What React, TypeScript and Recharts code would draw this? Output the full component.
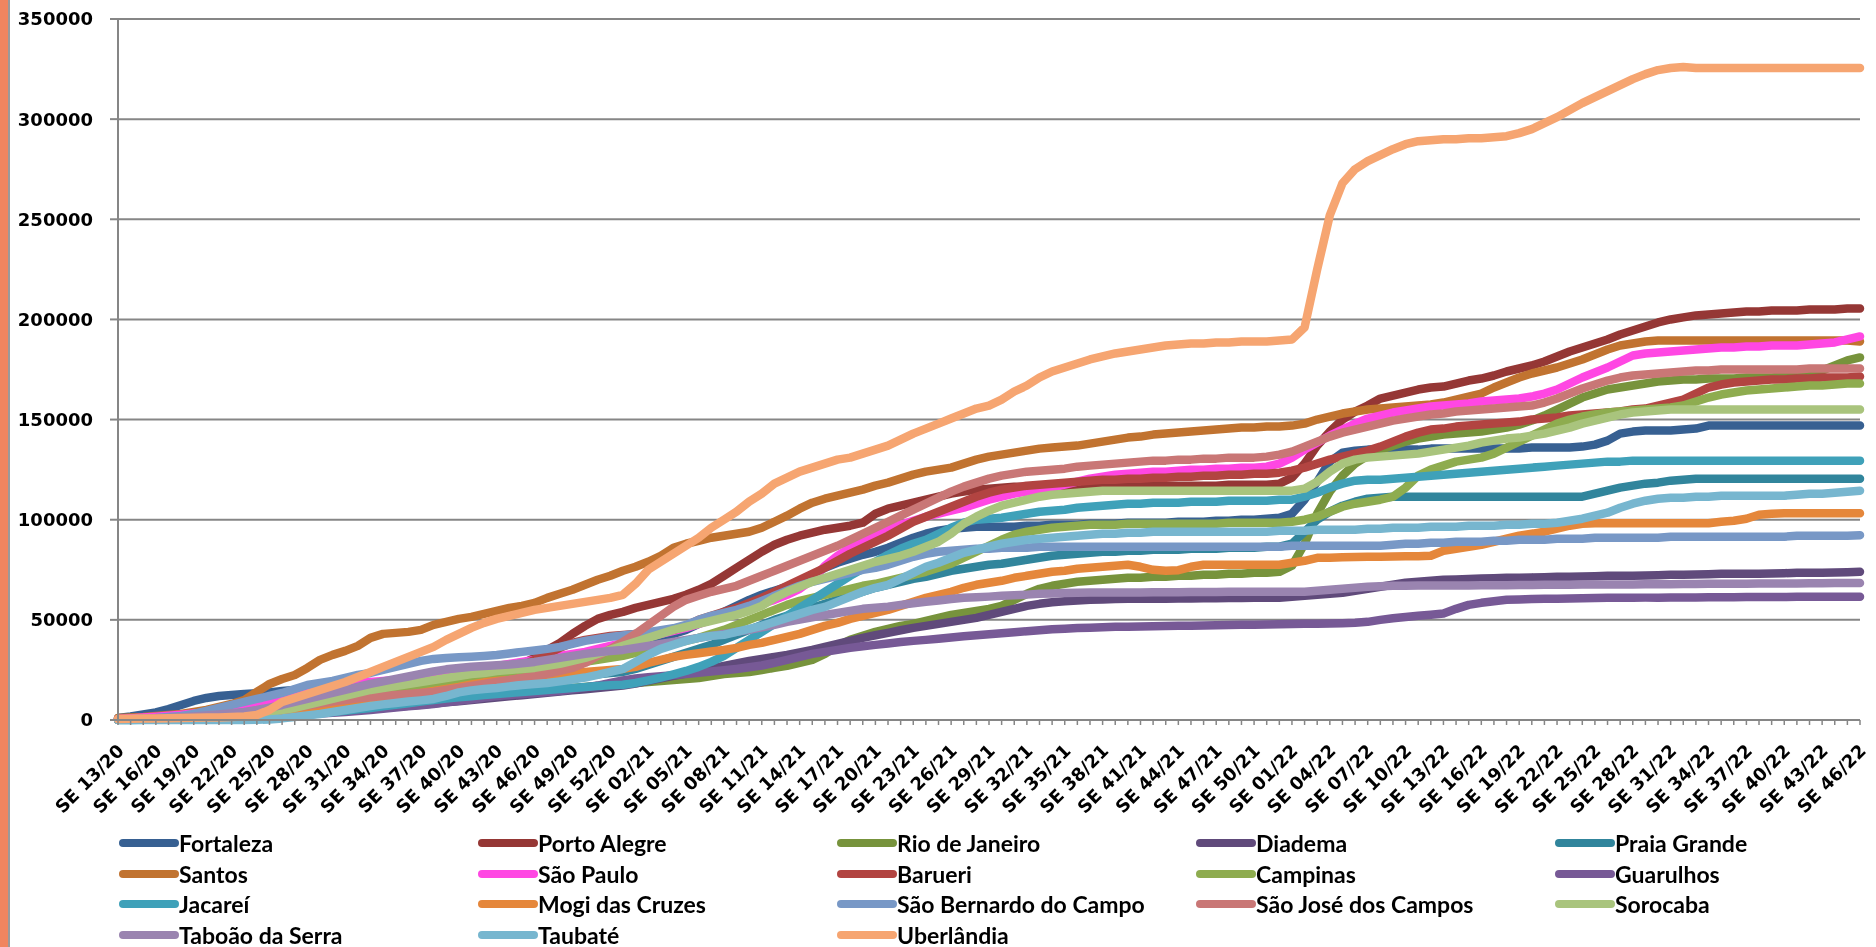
import { LineChart, Line, XAxis, YAxis, CartesianGrid, Legend } from "recharts";

// epidemiological weeks: SE 13/20 .. SE 46/22
const seasons: [string, number, number][] = [
  ["20", 13, 53],
  ["21", 1, 52],
  ["22", 1, 46],
];
const weeks: string[] = seasons.flatMap(([yy, from, to]) =>
  Array.from({ length: to - from + 1 }, (_, k) => `SE ${String(from + k).padStart(2, "0")}/${yy}`)
);
const labelledWeeks = new Set(weeks.filter((_, i) => i % 3 === 0));

const yTicks = [0, 50000, 100000, 150000, 200000, 250000, 300000, 350000];

// cumulative values, in thousands
const fortaleza = [
  1, 1.8, 2.8, 3.8, 5.5, 7.5, 9.5, 11, 12, 12.5,
  13, 13.3, 13.8, 14.5, 15, 15.5, 16, 16.5, 17, 17.5,
  18, 18.5, 19, 19.5, 20, 21, 22, 22.5, 23.5, 24,
  25, 26, 27, 28, 29, 30, 31.5, 33, 34, 35,
  36, 38, 39.5, 41, 43, 45, 48, 51, 54, 57,
  60, 62.5, 64.5, 66.5, 69, 72, 76, 78.5, 80.5, 82.5,
  84, 86, 88.5, 91, 93, 94.5, 95.5, 96, 96.5, 96.5,
  96.5, 96.5, 97, 97, 97.5, 97.5, 97.5, 98, 98, 98,
  98.5, 98.5, 98.5, 98.5, 99, 99, 99, 99.5, 99.5, 100,
  100, 100.5, 101, 103, 110, 119, 129, 133.5, 134.5, 135,
  135, 135, 135, 135, 135.5, 135.5, 135.5, 135.5, 135.5, 135.5,
  135.5, 135.5, 136, 136, 136, 136, 136.5, 137.5, 139.5, 143,
  144, 144.5, 144.5, 144.5, 145, 145.5, 147, 147, 147, 147,
  147, 147, 147, 147, 147, 147, 147, 147, 147,
];
const portoAlegre = [
  0.2, 0.3, 0.5, 0.7, 0.9, 1.1, 1.3, 1.5, 1.7, 2,
  2.3, 2.7, 3.1, 3.5, 4, 4.6, 5.2, 6, 6.8, 7.7,
  8.7, 9.8, 11, 12, 13, 14.5, 16, 17.5, 19, 20.5,
  22, 25, 28, 31, 35, 38.5, 43, 47, 50.5, 52.5,
  54, 56, 57.5, 59, 60.5, 62.5, 65, 68, 72, 76,
  80, 84, 87.5, 90, 92, 93.5, 95, 96, 97, 98.5,
  103, 105.5, 107, 108.5, 110, 111.5, 113, 114, 115, 115.5,
  116, 116.5, 116.5, 116.5, 116.5, 116.5, 116.5, 117, 117, 117,
  117, 117, 117, 117, 117, 117, 117, 117, 117.5, 117.5,
  117.5, 117.5, 118, 121, 128, 137, 144, 150, 154, 157,
  160.5, 162, 163.5, 165, 166, 166.5, 168, 169.5, 170.5, 172,
  174, 175.5, 177, 179, 181.5, 184, 186, 188, 190, 192.5,
  194.5, 196.5, 198.5, 200, 201, 202, 202.5, 203, 203.5, 204,
  204, 204.5, 204.5, 204.5, 205, 205, 205, 205.5, 205.5,
];
const rioDeJaneiro = [
  0.1, 0.2, 0.3, 0.4, 0.5, 0.7, 0.9, 1.1, 1.3, 1.5,
  1.8, 2.1, 2.5, 2.9, 3.3, 3.8, 4.3, 4.8, 5.4, 6,
  6.6, 7.2, 7.9, 8.6, 9.3, 10, 10.7, 11.4, 12, 12.5,
  13, 13.5, 14, 14.5, 15, 15.5, 16, 16.5, 17, 17.5,
  18, 18.5, 19, 19.5, 20, 20.5, 21, 22, 23, 23.5,
  24, 25, 26, 27, 28.5, 30, 33, 37, 40, 42,
  44, 45.5, 47, 48, 49.5, 51, 52.5, 53.5, 54.5, 55.5,
  57, 60, 63, 65.5, 67, 68, 69, 69.5, 70, 70.5,
  71, 71, 71.5, 71.5, 72, 72, 72.5, 72.5, 73, 73,
  73.5, 73.5, 74, 77, 88, 103, 114, 122, 128, 132,
  135, 137, 139, 140.5, 141.5, 142.5, 143, 143.5, 144, 145,
  146, 147.5, 149.5, 152, 155, 158, 161, 163, 165, 166,
  167, 168, 169, 169.5, 170, 170, 170.5, 170.5, 170.5, 171,
  171, 171, 171.5, 172, 173, 174.5, 177, 179.5, 181,
];
const diadema = [
  0.1, 0.15, 0.2, 0.3, 0.4, 0.5, 0.7, 0.9, 1.1, 1.4,
  1.7, 2, 2.4, 2.8, 3.2, 3.6, 4, 4.4, 4.8, 5.2,
  5.6, 6.1, 6.6, 7.1, 7.6, 8.2, 8.8, 9.4, 10, 10.6,
  11.2, 11.8, 12.4, 13, 13.6, 14.2, 14.8, 15.4, 16, 16.6,
  17.2, 18.2, 19.5, 20.8, 22, 23.2, 24.5, 25.8, 27, 28.2,
  29.5, 30.5, 31.5, 32.5, 33.7, 35, 36.5, 38, 39.5, 41,
  42.3, 43.5, 44.8, 46, 47, 48, 49, 50, 51, 52.5,
  54, 55.5, 57, 58, 58.8, 59.3, 59.7, 60, 60.2, 60.4,
  60.5, 60.5, 60.6, 60.6, 60.7, 60.7, 60.8, 60.8, 60.9, 60.9,
  61, 61, 61, 61.5, 62, 62.5, 63, 63.5, 64.5, 65.5,
  66.5, 67.5, 68.5, 69, 69.5, 70, 70.2, 70.4, 70.6, 70.8,
  71, 71, 71.2, 71.3, 71.5, 71.5, 71.6, 71.8, 72, 72,
  72, 72.2, 72.3, 72.5, 72.5, 72.6, 72.8, 73, 73, 73,
  73, 73.2, 73.3, 73.5, 73.5, 73.5, 73.6, 73.8, 74,
];
const praiaGrande = [
  0.2, 0.4, 0.6, 0.9, 1.3, 1.8, 2.4, 3, 3.6, 4.3,
  5, 6, 7.5, 9, 11, 13.5, 15, 15.8, 16.3, 16.7,
  17, 17.4, 17.7, 18, 18.3, 18.6, 18.8, 19, 19.3, 19.5,
  19.8, 20, 20.3, 20.6, 21, 21.4, 21.8, 22.3, 22.8, 23.4,
  24, 25.5, 27.5, 29.5, 31.5, 33.5, 35.5, 37.5, 40, 42.5,
  45, 47.5, 50, 52, 54, 56, 58, 60, 62, 64,
  66, 67.5, 69, 70.5, 71.5, 73, 74.5, 75.5, 76.5, 77.5,
  78, 79, 80, 81, 82, 82.5, 83, 83.5, 84, 84,
  84.5, 84.5, 85, 85, 85, 85.5, 85.5, 85.5, 86, 86,
  86, 86.5, 86.5, 88, 94, 100, 104, 107, 109, 110.5,
  111, 111.5, 111.5, 111.5, 111.5, 111.5, 111.5, 111.5, 111.5, 111.5,
  111.5, 111.5, 111.5, 111.5, 111.5, 111.5, 111.5, 113, 114.5, 116,
  117, 118, 118.5, 119.5, 120, 120.5, 120.5, 120.5, 120.5, 120.5,
  120.5, 120.5, 120.5, 120.5, 120.5, 120.5, 120.5, 120.5, 120.5,
];
const santos = [
  1, 1.2, 1.5, 2, 2.5, 3, 4, 5, 6.5, 8,
  10, 14, 18, 20.5, 22.5, 26, 30, 32.5, 34.5, 37,
  41, 43, 43.5, 44, 45, 47.5, 49, 50.5, 51.5, 53,
  54.5, 56, 57, 58.5, 61, 63, 65, 67.5, 70, 72,
  74.5, 76.5, 79, 82, 86, 88, 89.5, 91, 92, 93,
  94, 96, 99, 102, 105.5, 108.5, 110.5, 112, 113.5, 115,
  117, 118.5, 120.5, 122.5, 124, 125, 126, 128, 130, 131.5,
  132.5, 133.5, 134.5, 135.5, 136, 136.5, 137, 138, 139, 140,
  141, 141.5, 142.5, 143, 143.5, 144, 144.5, 145, 145.5, 146,
  146, 146.5, 146.5, 147, 148, 150, 151.5, 153, 154, 155,
  155.5, 156, 156.5, 157, 157.5, 158.5, 160, 161.5, 163, 166,
  168.5, 171, 173, 174.5, 176, 178, 180, 182.5, 185, 187,
  188, 189, 189.5, 189.5, 189.5, 189.5, 189.5, 189.5, 189.5, 189.5,
  189.5, 189.5, 189.5, 189.5, 189.5, 189.5, 189.5, 189.5, 189,
];
const saoPaulo = [
  0.5, 0.8, 1.2, 1.6, 2.1, 2.6, 3.2, 3.8, 4.5, 5.3,
  6.2, 7.5, 9.5, 12, 14.5, 16, 17, 17.5, 18, 18.5,
  19, 19.5, 20, 20.5, 21, 22, 23, 24, 25, 26,
  27, 28, 29, 30, 31, 32, 33, 34, 35.5, 37,
  38.5, 40, 41.5, 43, 44.5, 46, 48, 50, 52, 54,
  56, 58, 60, 62.5, 65.5, 70, 77, 82, 86, 89,
  92, 95, 97.5, 99.5, 101.5, 103, 104.5, 106, 108, 110,
  111.5, 113, 114, 115, 116, 117.5, 119, 120.5, 121.5, 122.5,
  123, 123.5, 124, 124, 124.5, 125, 125, 125.5, 125.5, 126,
  126, 126.5, 128, 131, 135, 138.5, 142, 145, 148, 150.5,
  152, 153.5, 154.5, 155.5, 156.5, 157, 157.5, 158, 159, 159.5,
  160, 160.5, 161.5, 163, 165, 168, 171, 173.5, 176, 179,
  182, 183, 183.5, 184, 184.5, 185, 185.5, 186, 186, 186.5,
  186.5, 187, 187, 187, 187.5, 188, 188.5, 190, 191.5,
];
const barueri = [
  0.2, 0.3, 0.4, 0.5, 0.6, 0.8, 1, 1.2, 1.4, 1.7,
  2, 2.4, 2.8, 3.3, 3.8, 4.4, 5, 5.7, 6.4, 7.2,
  8, 9, 10, 11, 12.5, 14, 15.5, 17, 18.5, 20,
  22, 24.5, 27, 30, 33, 36, 38.5, 40, 41, 42,
  42.5, 43, 43.5, 44, 45, 47, 50, 52, 54, 56,
  58.5, 61, 64, 67, 70, 73, 76, 79.5, 83, 86,
  89, 92, 95.5, 99, 101.5, 104, 106.5, 109, 111.5, 113.5,
  115, 116, 117, 117.5, 118, 118.5, 119, 119.5, 120, 120,
  120.5, 120.5, 121, 121, 121.5, 121.5, 122, 122, 122.5, 122.5,
  123, 123, 123.5, 124.5, 126, 128, 130, 131.5, 133, 134.5,
  136.5, 139, 141.5, 143.5, 145, 145.5, 146.5, 147, 147.5, 148,
  148.5, 149, 150, 150.5, 151, 152, 152.5, 153, 153.5, 154,
  155, 155.5, 157, 158.5, 160, 163, 166, 167.5, 168.5, 169,
  169.5, 170, 170, 170.5, 170.5, 171, 171, 171, 171.5,
];
const campinas = [
  0.1, 0.2, 0.3, 0.4, 0.5, 0.7, 0.9, 1.2, 1.5, 1.9,
  2.4, 3, 3.7, 4.5, 5.4, 6.4, 7.5, 8.6, 9.8, 11,
  12, 13, 14, 15, 16, 17, 18, 19, 20, 21,
  22, 23, 24, 25, 26, 27, 28, 29, 30, 31,
  32, 33.5, 35, 36.5, 38, 39.5, 41, 43, 45, 47.5,
  50, 52.5, 55, 57.5, 59.5, 61, 62.5, 64, 65.5, 67,
  68, 69.5, 71, 72.5, 74, 76, 78, 81, 84, 87,
  90, 92.5, 94, 95, 96, 96.5, 97, 97.5, 97.5, 97.5,
  98, 98, 98, 98, 98, 98, 98, 98, 98.5, 98.5,
  98.5, 98.5, 98.5, 99, 100, 101.5, 104, 106.5, 108, 109,
  110, 111.5, 116, 122, 125, 127, 129, 130, 131, 133,
  136, 139, 142, 145, 148, 150, 151.5, 152.5, 153.5, 154,
  154.5, 155, 155.5, 156, 157, 159, 161, 162.5, 163.5, 164.5,
  165, 165.5, 166, 166.5, 167, 167, 167.5, 168, 168,
];
const guarulhos = [
  0.1, 0.15, 0.2, 0.3, 0.4, 0.5, 0.6, 0.7, 0.8, 0.9,
  1, 1.3, 1.6, 2, 2.4, 2.8, 3.2, 3.6, 4, 4.5,
  5, 5.6, 6.2, 6.8, 7.4, 8, 8.8, 9.6, 10.4, 11.2,
  12, 12.5, 13, 13.5, 14, 14.5, 15.5, 16.3, 17.2, 18.5,
  19.8, 20.7, 21.3, 21.8, 22.4, 23, 23.6, 24.2, 24.8, 25.5,
  26.3, 27.2, 28.5, 30, 31.5, 33, 34, 35, 36, 36.8,
  37.5, 38.2, 38.9, 39.5, 40, 40.6, 41.2, 41.8, 42.3, 42.8,
  43.3, 43.8, 44.3, 44.8, 45.3, 45.6, 45.9, 46.1, 46.3, 46.5,
  46.6, 46.7, 46.8, 46.9, 47, 47.1, 47.2, 47.3, 47.4, 47.5,
  47.6, 47.7, 47.8, 47.9, 48, 48.1, 48.2, 48.3, 48.5, 49,
  50, 50.8, 51.4, 52, 52.6, 53.2, 55.5, 57.5, 58.5, 59.3,
  60, 60.2, 60.4, 60.5, 60.6, 60.7, 60.8, 60.9, 61, 61,
  61, 61.1, 61.1, 61.2, 61.2, 61.2, 61.3, 61.3, 61.3, 61.4,
  61.4, 61.4, 61.4, 61.5, 61.5, 61.5, 61.5, 61.5, 61.5,
];
const jacarei = [
  0, 0.05, 0.1, 0.2, 0.3, 0.4, 0.5, 0.6, 0.7, 0.85,
  1, 1.3, 1.7, 2.1, 2.5, 3, 3.5, 4, 4.6, 5.3,
  6, 6.8, 7.6, 8.4, 9.2, 10, 10.7, 11.3, 11.9, 12.5,
  13, 13.5, 14, 14.5, 15, 15.5, 16, 16.5, 17, 17.3,
  17.6, 18.5, 19.8, 21.2, 22.8, 24.5, 26.5, 29, 32, 36,
  40, 44, 48, 52, 56, 60, 64, 68, 72, 75.5,
  79, 82.5, 85.5, 88, 90, 93, 96, 98.5, 100, 100.5,
  101, 102, 103, 104, 104.5, 105, 106, 106.5, 107, 107.5,
  108, 108, 108.5, 108.5, 108.5, 109, 109, 109, 109.5, 109.5,
  109.5, 109.5, 110, 110, 111.5, 113.5, 116, 118, 119.5, 120,
  120, 120.5, 121, 121.5, 122, 122.5, 123, 123.5, 124, 124.5,
  125, 125.5, 126, 126.5, 127, 127.5, 128, 128.5, 129, 129,
  129.5, 129.5, 129.5, 129.5, 129.5, 129.5, 129.5, 129.5, 129.5, 129.5,
  129.5, 129.5, 129.5, 129.5, 129.5, 129.5, 129.5, 129.5, 129.5,
];
const mogiDasCruzes = [
  0.1, 0.15, 0.2, 0.3, 0.4, 0.5, 0.6, 0.8, 1, 1.2,
  1.5, 1.8, 2.2, 2.7, 3.3, 4, 4.8, 5.6, 6.4, 7.3,
  8.3, 9.5, 11, 12.5, 13.5, 14.5, 15.5, 16.5, 17.8, 18.8,
  19.5, 20, 20.8, 21.5, 22.2, 23, 23.5, 24, 24.5, 25,
  25.5, 26.5, 28.5, 30, 31.5, 32.5, 33.3, 34.2, 35, 36,
  37.5, 38.5, 40, 41.5, 43, 45, 47, 48.5, 50.5, 52,
  53.5, 55, 57, 59, 61, 62.5, 64, 66, 67.5, 68.5,
  69.5, 71, 72, 73, 74, 74.5, 75.5, 76, 76.5, 77,
  77.5, 76.5, 75, 74.5, 74.8, 76.5, 77.5, 77.5, 77.5, 77.5,
  77.5, 77.5, 77.5, 78.5, 79.5, 81, 81, 81.2, 81.4, 81.5,
  81.5, 81.6, 81.7, 81.8, 82, 84.5, 85.5, 86.5, 87.5, 89,
  90.5, 92, 93, 94, 95.5, 97, 98, 98.2, 98.2, 98.2,
  98.2, 98.2, 98.2, 98.2, 98.2, 98.2, 98.2, 99, 99.5, 100.5,
  102.5, 103, 103.2, 103.2, 103.2, 103.2, 103.2, 103.2, 103.2,
];
const saoBernardo = [
  0.2, 0.4, 0.7, 1, 1.5, 2, 3, 4.5, 6, 7.5,
  9, 10.5, 12, 13.5, 15.5, 17.5, 18.5, 19.5, 21, 22.5,
  23.5, 25, 26.5, 28, 29.5, 30.5, 31, 31.3, 31.6, 32,
  32.5, 33.2, 34, 34.7, 35.5, 36.5, 38, 39.5, 40.5, 41.5,
  42.2, 43, 43.8, 44.8, 45.8, 47.5, 50, 52, 53.5, 55,
  57, 59.5, 62, 64.5, 67, 69, 70.5, 72, 73.5, 75,
  76, 77.5, 79.5, 81.5, 83, 84, 84.5, 85, 85.5, 85.5,
  86, 86, 86, 86.5, 86.5, 86.5, 86.5, 86.5, 86.5, 86.5,
  86.5, 86.5, 86.5, 86.5, 86.5, 86.5, 86.5, 86.5, 86.5, 86.5,
  86.5, 86.5, 86.5, 87, 87, 87, 87, 87, 87, 87,
  87, 87.5, 88, 88, 88.5, 88.5, 89, 89, 89, 89.5,
  89.5, 90, 90, 90, 90.5, 90.5, 90.5, 91, 91, 91,
  91, 91, 91, 91.5, 91.5, 91.5, 91.5, 91.5, 91.5, 91.5,
  91.5, 91.5, 91.5, 92, 92, 92, 92, 92, 92.3,
];
const saoJoseDosCampos = [
  0.3, 0.4, 0.5, 0.7, 0.9, 1.1, 1.4, 1.8, 2.2, 2.7,
  3.2, 3.8, 4.5, 5.3, 6.2, 7.2, 8.2, 9.2, 10, 10.8,
  11.5, 12, 12.5, 13, 13.5, 14, 15, 16, 17, 18,
  19, 20, 21, 22, 23, 24.5, 26, 28.5, 32, 35.5,
  39, 43, 47.5, 52, 56.5, 60, 62, 64, 65.5, 67,
  69.5, 72, 74.5, 77, 79.5, 82, 84.5, 87, 90, 93,
  96, 99, 102, 105, 108, 111, 114, 116.5, 118.5, 120.5,
  122, 123, 124, 124.5, 125, 125.5, 126.5, 127, 127.5, 128,
  128.5, 129, 129.5, 129.5, 130, 130, 130.5, 130.5, 131, 131,
  131, 131.5, 132.5, 134, 136.5, 139, 141.5, 143.5, 145, 146.5,
  148, 149.5, 150.5, 151.5, 152.5, 153, 154, 154.5, 155, 155.5,
  156, 156.5, 157, 158.5, 160.5, 163, 165.5, 167.5, 169.5, 171,
  172, 172.5, 173, 173.5, 174, 174.5, 174.5, 175, 175, 175,
  175, 175, 175, 175, 175.5, 175.5, 175.5, 175.5, 175.5,
];
const sorocaba = [
  0.2, 0.3, 0.4, 0.5, 0.7, 0.9, 1.1, 1.4, 1.8, 2.2,
  2.7, 3.3, 4, 5, 6, 7.5, 9, 10.5, 12, 13.5,
  15, 16, 17, 18, 19, 20, 21, 22, 23, 23.5,
  24.5, 25, 25.5, 26, 27, 28, 29.5, 31, 33, 35,
  37, 39, 41, 43, 45, 46.5, 48, 49.5, 51, 52.5,
  54.5, 57, 61, 64, 66.5, 69, 71, 73, 75, 77,
  79, 80.5, 82, 84, 86.5, 89, 93, 98, 101.5, 104.5,
  107, 108.5, 110, 111.5, 112.5, 113, 113.5, 114, 114.5, 114.5,
  114.5, 114.5, 114.5, 114.5, 114.5, 114.5, 114.5, 114.5, 114.5, 114.5,
  114.5, 114.5, 114.5, 114.5, 115.5, 119, 124, 128, 130, 131,
  131.5, 132, 132.5, 133, 134, 135, 136, 137, 138.5, 139.5,
  140.5, 141, 142, 143, 144.5, 146, 148, 149.5, 151, 152.5,
  153.5, 154, 154.5, 155, 155, 155, 155, 155, 155, 155,
  155, 155, 155, 155, 155, 155, 155, 155, 155,
];
const taboaoDaSerra = [
  0.2, 0.3, 0.5, 0.7, 1, 1.3, 1.7, 2.2, 2.8, 3.4,
  4, 5, 6.2, 7.5, 9, 10.5, 12, 13.5, 15, 16.5,
  18, 19.3, 20.5, 21.7, 23, 24.3, 25.3, 26, 26.6, 27,
  27.3, 27.7, 28.3, 29, 30, 31, 32, 33, 33.8, 34.4,
  35, 36, 37, 38, 39, 40, 41, 42, 43, 44,
  45, 46.3, 47.5, 49, 50.2, 51.3, 52.4, 53.4, 54.5, 55.5,
  56, 56.6, 57.5, 58.3, 59, 59.7, 60.4, 61, 61.3, 61.6,
  62, 62.3, 62.6, 63, 63.2, 63.4, 63.5, 63.6, 63.6, 63.7,
  63.7, 63.7, 63.8, 63.8, 63.8, 63.9, 63.9, 63.9, 64, 64,
  64, 64, 64, 64, 64, 64.5, 65, 65.5, 66, 66.5,
  66.8, 67, 67, 67.1, 67.1, 67.2, 67.2, 67.2, 67.3, 67.3,
  67.3, 67.4, 67.4, 67.5, 67.5, 67.5, 67.6, 67.6, 67.6, 67.7,
  67.7, 67.8, 67.8, 67.8, 67.9, 67.9, 68, 68, 68, 68,
  68.1, 68.1, 68.2, 68.2, 68.3, 68.3, 68.4, 68.4, 68.4,
];
const taubate = [
  0, 0, 0, 0, 0, 0, 0, 0, 0, 0,
  0, 0.1, 0.3, 0.8, 1.5, 2.3, 3, 4, 5, 6,
  7, 7.8, 8.5, 9.2, 9.8, 10.5, 12, 13.8, 14.8, 15.5,
  16, 16.8, 17.5, 18, 18.5, 19.3, 20.2, 21.2, 22.5, 24,
  25.5, 29, 32.5, 35.5, 37.5, 39.5, 41, 42, 42.5, 44,
  45.5, 47, 49, 51, 53, 55, 56.5, 59, 61.5, 64,
  66, 67.5, 70.5, 73.5, 76.5, 78.5, 81, 83.5, 85, 86.5,
  88, 89, 90, 90.5, 91, 91.5, 92, 92.5, 93, 93,
  93.5, 93.5, 94, 94, 94, 94, 94, 94, 94, 94,
  94, 94, 94.5, 94.5, 94.5, 95, 95, 95, 95, 95.5,
  95.5, 96, 96, 96, 96.5, 96.5, 96.5, 97, 97, 97,
  97.5, 97.5, 98, 98, 98.5, 99.5, 100.5, 102, 103.5, 106,
  108, 109.5, 110.5, 111, 111, 111.5, 111.5, 112, 112, 112,
  112, 112, 112, 112.5, 113, 113, 113.5, 114, 114.5,
];
const uberlandia = [
  0.5, 0.6, 0.7, 0.8, 0.9, 1, 1.1, 1.2, 1.3, 1.5,
  1.8, 2.5, 5, 9, 11, 13, 15, 17, 19, 21.5,
  24, 26.5, 29, 31.5, 34, 36.5, 40, 43, 46, 48.5,
  50.5, 52, 53.5, 55, 56, 57, 58, 59, 60, 61,
  62.5, 68, 75, 79, 83, 87, 91, 96, 100, 104,
  109, 113, 118, 121, 124, 126, 128, 130, 131, 133,
  135, 137, 140, 143, 145.5, 148, 150.5, 153, 155.5, 157,
  160, 164, 167, 171, 174, 176, 178, 180, 181.5, 183,
  184, 185, 186, 187, 187.5, 188, 188, 188.5, 188.5, 189,
  189, 189, 189.5, 190, 196, 225, 252, 268, 275, 279,
  282, 285, 287.5, 289, 289.5, 290, 290, 290.5, 290.5, 291,
  291.5, 293, 295, 298, 301, 304.5, 308, 311, 314, 317,
  320, 322.5, 324.5, 325.5, 326, 325.5, 325.5, 325.5, 325.5, 325.5,
  325.5, 325.5, 325.5, 325.5, 325.5, 325.5, 325.5, 325.5, 325.5,
];

const cities = [
  "Fortaleza", "Porto Alegre", "Rio de Janeiro", "Diadema", "Praia Grande",
  "Santos", "São Paulo", "Barueri", "Campinas", "Guarulhos",
  "Jacareí", "Mogi das Cruzes", "São Bernardo do Campo", "São José dos Campos", "Sorocaba",
  "Taboão da Serra", "Taubaté", "Uberlândia",
];
const cityValues = [
  fortaleza, portoAlegre, rioDeJaneiro, diadema, praiaGrande,
  santos, saoPaulo, barueri, campinas, guarulhos,
  jacarei, mogiDasCruzes, saoBernardo, saoJoseDosCampos, sorocaba,
  taboaoDaSerra, taubate, uberlandia,
];
const cityColors = [
  "#376092", "#953735", "#77933C", "#604A7B", "#31859C",
  "#C17330", "#FF47E3", "#B24441", "#8EAC4F", "#775996",
  "#3FA1B9", "#E5873B", "#7898C6", "#C97776", "#A9C47D",
  "#9A84B0", "#77B6CF", "#F6A571",
];

const data = weeks.map((week, i) => {
  const row: Record<string, string | number> = { week };
  cities.forEach((city, k) => {
    row[city] = Math.round(cityValues[k][i] * 1000);
  });
  return row;
});

const AXIS_GREY = "#868686";

function WeekTick(props: any) {
  const { x, y, payload } = props;
  if (!labelledWeeks.has(payload.value)) return <g />;
  const tx = x + 7;
  const ty = y + 25;
  return (
    <text
      x={tx}
      y={ty}
      transform={`rotate(-45 ${tx} ${ty})`}
      textAnchor="end"
      fontFamily="DejaVu Sans"
      fontWeight="bold"
      fontSize={18}
      fill="#000"
    >
      {payload.value}
    </text>
  );
}

function CityLegend() {
  return (
    <div
      style={{
        display: "grid",
        gridTemplateColumns: "repeat(5, 359px)",
        fontFamily: "Lato",
        fontWeight: 700,
        fontSize: 23,
        lineHeight: "26px",
        color: "#000",
      }}
    >
      {cities.map((city, k) => (
        <div key={city} style={{ display: "flex", alignItems: "center", height: 30.5, whiteSpace: "nowrap" }}>
          <svg width={60} height={12} style={{ flex: "none" }}>
            <line x1={4} y1={6} x2={56} y2={6} stroke={cityColors[k]} strokeWidth={8} strokeLinecap="round" />
          </svg>
          <span>{city}</span>
        </div>
      ))}
    </div>
  );
}

export default function App() {
  return (
    <div style={{ position: "relative" }}>
      <div
        style={{
          position: "fixed",
          left: 0,
          top: 0,
          width: 8,
          height: "100vh",
          background: "#F0855F",
          borderRight: "2px solid #9A9A9A",
        }}
      />
      <LineChart
        width={1866}
        height={939}
        data={data}
        margin={{ top: 11, right: 14, bottom: 127, left: 0 }}
      >
        <CartesianGrid vertical={false} stroke={AXIS_GREY} strokeWidth={2} />
        <XAxis
          dataKey="week"
          interval={0}
          height={100}
          tickSize={5}
          tickMargin={2}
          axisLine={{ stroke: AXIS_GREY, strokeWidth: 2 }}
          tickLine={{ stroke: AXIS_GREY, strokeWidth: 1.5 }}
          tick={WeekTick}
        />
        <YAxis
          width={110}
          domain={[0, 350000]}
          ticks={yTicks}
          interval={0}
          tickSize={8}
          tickMargin={17}
          axisLine={{ stroke: AXIS_GREY, strokeWidth: 2 }}
          tickLine={{ stroke: AXIS_GREY, strokeWidth: 2 }}
          tick={{ fill: "#000", fontSize: 18, fontWeight: "bold", fontFamily: "DejaVu Sans" }}
        />
        <Legend
          layout="vertical"
          align="center"
          verticalAlign="middle"
          content={() => <CityLegend />}
          wrapperStyle={{ top: 820, left: 111, width: 1800 }}
        />
        {cities.map((city, k) => (
          <Line
            key={city}
            type="linear"
            dataKey={city}
            stroke={cityColors[k]}
            strokeWidth={8.5}
            strokeLinecap="round"
            strokeLinejoin="round"
            dot={false}
            activeDot={false}
            isAnimationActive={false}
          />
        ))}
      </LineChart>
    </div>
  );
}
